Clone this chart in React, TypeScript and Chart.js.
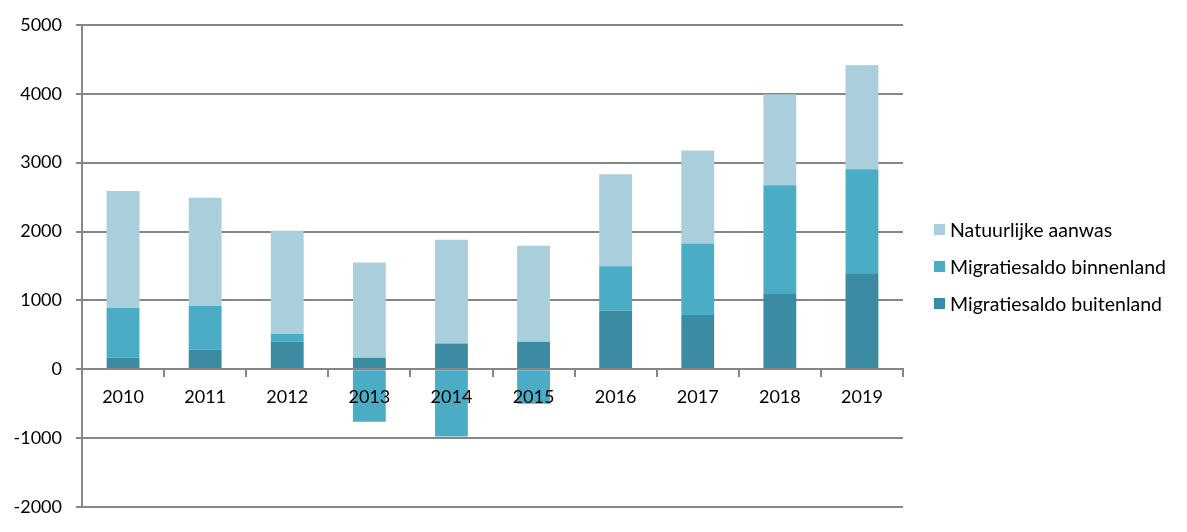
import React, { useEffect, useRef } from "react";
import { Chart, registerables } from "chart.js";

Chart.register(...registerables);

const years = ["2010", "2011", "2012", "2013", "2014", "2015", "2016", "2017", "2018", "2019"];
const buitenland = [170, 290, 400, 170, 375, 400, 850, 790, 1105, 1395];
const binnenland = [725, 630, 115, -760, -975, -500, 645, 1035, 1567, 1508];
const natuurlijk = [1695, 1570, 1495, 1380, 1505, 1395, 1335, 1350, 1322, 1510];
const yTicks = [-2000, -1000, 0, 1000, 2000, 3000, 4000, 5000];

const seriesNames = ["Migratiesaldo buitenland", "Migratiesaldo binnenland", "Natuurlijke aanwas"];
const colors = ["#3B8BA2", "#4BACC6", "#A9CFDC"];

const FONT = "Lato, 'Noto Sans', sans-serif";

export default function App() {
  const ref = useRef<HTMLCanvasElement | null>(null);
  useEffect(() => {
    document.body.style.margin = "0";
    const ctx = ref.current!;
    const chart = new Chart(ctx, {
      type: "bar",
      data: {
        labels: years,
        datasets: [
          { label: seriesNames[0], data: buitenland, backgroundColor: colors[0] },
          { label: seriesNames[1], data: binnenland, backgroundColor: colors[1] },
          { label: seriesNames[2], data: natuurlijk, backgroundColor: colors[2] },
        ],
      },
      options: {
        animation: false,
        responsive: false,
        maintainAspectRatio: false,
        layout: { padding: { top: 21, bottom: 20, left: 0, right: 284 } },
        datasets: { bar: { barPercentage: 0.4, categoryPercentage: 1 } },
        plugins: { legend: { display: false }, tooltip: { enabled: false } },
        scales: {
          x: {
            stacked: true,
            position: { y: 0 } as any,
            grid: {
              drawOnChartArea: false,
              drawTicks: true,
              tickLength: 7,
              color: "#868686",
              lineWidth: 2,
              offset: true,
              z: 1,
            },
            border: { display: true, color: "#868686", width: 2, z: 1 },
            ticks: { color: "#000", font: { family: FONT, size: 18 }, padding: 10, z: 1 },
          },
          y: {
            stacked: true,
            min: -2000,
            max: 5000,
            afterBuildTicks: (scale: any) => {
              scale.ticks = yTicks.map((v) => ({ value: v }));
            },
            afterFit: (scale: any) => {
              scale.width = 82;
            },
            grid: { color: "#868686", lineWidth: 2, tickLength: 6 },
            border: { display: true, color: "#868686", width: 2 },
            ticks: {
              color: "#000",
              font: { family: FONT, size: 18 },
              padding: 14,
              callback: (v: any) => String(v),
            },
          },
        },
      },
    });
    return () => chart.destroy();
  }, []);

  const legendItems = [2, 1, 0];
  return (
    <div style={{ position: "relative", width: 1187, height: 532 }}>
      <canvas ref={ref} width={1187} height={532} style={{ position: "absolute", left: 0, top: 0 }} />
      {legendItems.map((i, k) => (
        <div
          key={i}
          style={{
            position: "absolute",
            left: 934,
            top: 229 + k * 37 - 12,
            height: 24,
            display: "flex",
            alignItems: "center",
            fontFamily: FONT,
            fontSize: 19.5,
            color: "#000",
            whiteSpace: "nowrap",
          }}
        >
          <span style={{ display: "inline-block", width: 11, height: 11, background: colors[i], marginRight: 5 }} />
          <span>{seriesNames[i]}</span>
        </div>
      ))}
    </div>
  );
}
